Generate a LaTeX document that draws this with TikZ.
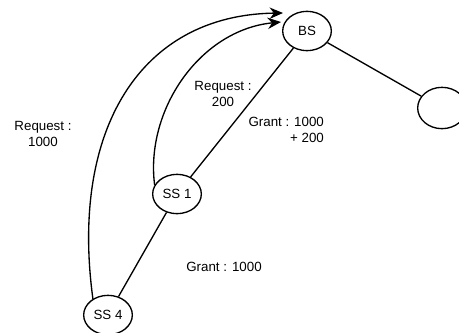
\documentclass[tikz,border=0pt]{standalone}
\usepackage{fontspec}
\setmainfont{Liberation Sans}
\usetikzlibrary{arrows.meta,shapes.geometric}

\begin{document}
\begin{tikzpicture}[x=0.75pt,y=-0.75pt,line width=1pt,
  every node/.style={font=\fontsize{10}{11.5}\selectfont},
  station/.style={draw,ellipse,minimum width=36.5pt,minimum height=29.5pt,inner sep=1pt}]
  \useasboundingbox (0,0) rectangle (459,332);
  \node[station] (BS) at (307,31) {BS};
  \node[station] (SSa) at (177,194) {SS 1};
  \node[station] (SSd) at (108,315) {SS 4};
  \node[station,minimum height=31pt] (R) at (442,108) {};
  \draw (BS) -- (R);
  \draw (SSa) -- (BS);
  \draw (SSd) -- (SSa);
  % requests up to the base station
  \coordinate (tipA) at (283,13);
  \coordinate (tipB) at (281,22);
  \draw[-{Stealth[length=10pt,width=8.5pt]}] (SSd.133)
    .. controls (70,130) and (140,15) .. (tipA);
  \draw[-{Stealth[length=10pt,width=8.5pt]}] (SSa.158)
    .. controls (145,110) and (200,30) .. (tipB);
  \node[align=center] (reqd) at (43,134) {Request :\\1000};
  \node[align=center] (reqa) at (223,94) {Request :\\200};
  \node[align=right,anchor=east] (grta) at (329,130) {Grant : 1000\\+ 200};
  \node (grtd) at (224,267) {Grant : 1000};
\end{tikzpicture}
\end{document}
